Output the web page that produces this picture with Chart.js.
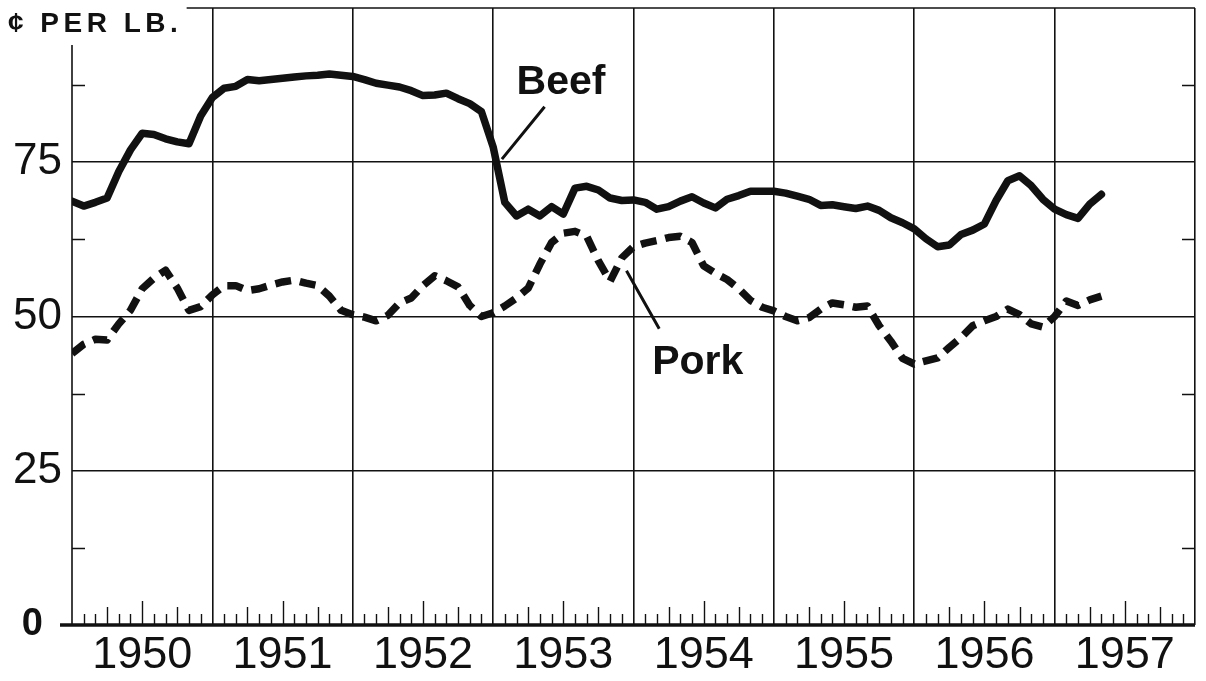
<!DOCTYPE html>
<html>
<head>
<meta charset="utf-8">
<script src="https://cdn.jsdelivr.net/npm/chart.js@4.4.1/dist/chart.umd.min.js"></script>
<style>
  body { margin: 0; background: #fff; }
  canvas { display: block; }
</style>
</head>
<body>
<canvas id="myChart" width="1206" height="681"></canvas>
<script>
// monthly retail prices, cents per lb, Jan 1950 onward
const years = ['1950', '1951', '1952', '1953', '1954', '1955', '1956', '1957'];

const beef = [
  68.7, 67.9, 68.5, 69.2, 73.5, 77.0, 79.7, 79.5, 78.8, 78.3, 78.0, 82.5,
  85.5, 87.0, 87.3, 88.4, 88.2, 88.4, 88.6, 88.8, 89.0, 89.1, 89.3, 89.1,
  88.9, 88.4, 87.8, 87.5, 87.2, 86.6, 85.8, 85.9, 86.2, 85.3, 84.5, 83.2,
  77.5, 68.5, 66.3, 67.4, 66.3, 67.8, 66.6, 70.8, 71.1, 70.5, 69.2, 68.8,
  68.9, 68.5, 67.4, 67.8, 68.7, 69.4, 68.4, 67.6, 69.0, 69.6, 70.3, 70.3,
  70.3, 70.0, 69.5, 69.0, 68.0, 68.1, 67.8, 67.5, 67.9, 67.2, 66.0, 65.2,
  64.2, 62.6, 61.3, 61.6, 63.3, 64.0, 65.0, 68.8, 72.0, 72.8, 71.2, 69.0,
  67.4, 66.5, 65.9, 68.2, 69.8
];

const pork = [
  44.0, 45.5, 46.3, 46.2, 48.8, 51.0, 54.5, 56.2, 57.5, 54.6, 51.0, 51.6,
  53.5, 55.0, 55.0, 54.2, 54.5, 55.1, 55.6, 55.9, 55.4, 55.0, 53.3, 51.0,
  50.3, 49.9, 49.3, 50.2, 52.2, 53.0, 55.0, 56.6, 55.8, 54.8, 51.8, 50.0,
  50.6, 51.7, 53.0, 54.6, 58.5, 62.0, 63.5, 63.8, 63.0, 59.0, 55.7, 59.5,
  61.3, 61.9, 62.3, 62.8, 63.0, 62.0, 58.2, 57.0, 56.0, 54.5, 52.6, 51.5,
  50.9, 50.0, 49.3, 49.8, 51.2, 52.2, 51.9, 51.5, 51.7, 48.5, 46.0, 43.2,
  42.3, 42.8, 43.3, 45.0, 46.6, 48.5, 49.3, 50.0, 51.2, 50.3, 48.8, 48.3,
  50.0, 52.5, 51.8, 52.7, 53.3
];

const yTicks = [0, 25, 50, 75, 100];

const ink = '#111';
const sans = '"Liberation Sans", Arial, sans-serif';

// ticks, frame and labels the library does not draw the way the print does
const decor = {
  id: 'decor',
  afterDatasetsDraw(chart) {
    const c = chart.ctx;
    const x = chart.scales.x;
    const y = chart.scales.y;
    const area = chart.chartArea;
    c.save();
    c.strokeStyle = ink;
    c.fillStyle = ink;
    c.lineCap = 'butt';

    // left axis stops short of the unit label
    c.lineWidth = 1.6;
    c.beginPath();
    c.moveTo(area.left, y.getPixelForValue(94));
    c.lineTo(area.left, area.bottom);
    c.stroke();

    // top frame starts right of the unit label
    c.beginPath();
    c.moveTo(x.getPixelForValue(9.8), area.top);
    c.lineTo(area.right, area.top);
    c.stroke();

    // month ticks along the bottom
    c.lineWidth = 1.4;
    for (let m = 1; m < 96; m++) {
      if (m % 12 === 0) continue;
      let h = 11;
      if (m % 12 === 6) h = 24;
      else if (m % 3 === 0) h = 18;
      const px = Math.round(x.getPixelForValue(m)) + 0.5;
      c.beginPath();
      c.moveTo(px, area.bottom);
      c.lineTo(px, area.bottom - h);
      c.stroke();
    }

    // half-step ticks on both sides
    [12.5, 37.5, 62.5, 87.5].forEach(v => {
      const py = Math.round(y.getPixelForValue(v)) + 0.5;
      c.beginPath();
      c.moveTo(area.left, py);
      c.lineTo(area.left + 13, py);
      c.moveTo(area.right, py);
      c.lineTo(area.right - 13, py);
      c.stroke();
    });

    // heavy zero line
    c.lineWidth = 3.6;
    c.beginPath();
    c.moveTo(area.left - 12, area.bottom);
    c.lineTo(area.right, area.bottom);
    c.stroke();

    // unit label
    c.font = 'bold 28px ' + sans;
    c.letterSpacing = '4.5px';
    c.textBaseline = 'alphabetic';
    c.fillText('\u00a2 PER LB.', 8, 32);
    c.letterSpacing = '0px';

    // series labels and leaders
    c.font = 'bold 41px ' + sans;
    c.fillText('Beef', x.getPixelForValue(38.0), y.getPixelForValue(86));
    c.fillText('Pork', x.getPixelForValue(49.6), y.getPixelForValue(40.7));
    c.lineWidth = 3;
    c.beginPath();
    c.moveTo(x.getPixelForValue(40.4), y.getPixelForValue(84));
    c.lineTo(x.getPixelForValue(36.75), y.getPixelForValue(75.5));
    c.moveTo(x.getPixelForValue(47.4), y.getPixelForValue(57.4));
    c.lineTo(x.getPixelForValue(50.2), y.getPixelForValue(48));
    c.stroke();
    c.restore();
  }
};

const ctx = document.getElementById('myChart');

const myChart = new Chart(ctx, {
  type: 'line',
  data: {
    datasets: [{
      label: 'Beef',
      data: beef.map((v, i) => ({ x: i, y: v })),
      borderColor: ink,
      borderWidth: 7.5,
      borderJoinStyle: 'round',
      borderCapStyle: 'round',
      pointRadius: 0,
      tension: 0,
      fill: false,
    }, {
      label: 'Pork',
      data: pork.map((v, i) => ({ x: i, y: v })),
      borderColor: ink,
      borderWidth: 7.5,
      borderDash: [16, 9],
      borderJoinStyle: 'round',
      pointRadius: 0,
      tension: 0,
      fill: false,
    }]
  },
  options: {
    responsive: false,
    animation: false,
    layout: { padding: { top: 8, right: 11, left: 0, bottom: 0 } },
    plugins: {
      legend: { display: false },
      tooltip: { enabled: false },
    },
    scales: {
      x: {
        type: 'linear',
        min: 0,
        max: 96,
        afterBuildTicks: s => {
          const t = [];
          for (let m = 0; m <= 96; m += 6) t.push({ value: m });
          s.ticks = t;
        },
        afterFit: s => { s.height = 56; s.paddingLeft = 0; s.paddingRight = 0; },
        border: { display: false },
        grid: {
          drawTicks: false,
          lineWidth: 1.6,
          color: c => (c.tick && c.tick.value % 12 === 0 && c.tick.value > 0) ? ink : 'rgba(0,0,0,0)',
        },
        ticks: {
          autoSkip: false,
          maxRotation: 0,
          padding: 4,
          color: ink,
          font: { family: sans, size: 45 },
          callback: v => (v % 12 === 6 ? years[(v - 6) / 12] : ''),
        },
      },
      y: {
        min: 0,
        max: 100,
        afterBuildTicks: s => { s.ticks = yTicks.map(v => ({ value: v })); },
        afterFit: s => { s.width = 72; s.paddingTop = 0; s.paddingBottom = 0; },
        border: { display: false },
        grid: {
          drawTicks: false,
          lineWidth: 1.6,
          color: c => (c.tick && c.tick.value > 0 && c.tick.value < 100) ? ink : 'rgba(0,0,0,0)',
        },
        ticks: {
          padding: 10,
          color: ink,
          font: c => (c.tick && c.tick.value === 0)
            ? { family: sans, size: 38, weight: 'bold' }
            : { family: sans, size: 44 },
          callback: v => (v === 0 ? '0\u2002' : v === 100 ? '' : String(v)),
        },
      },
    },
  },
  plugins: [decor],
});
</script>
</body>
</html>
